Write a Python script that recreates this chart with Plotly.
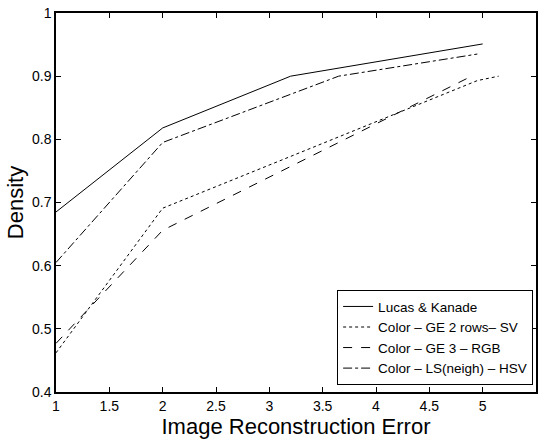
import plotly.graph_objects as go

# Data
lk_x = [1, 2, 3.2, 5.0]
lk_y = [0.685, 0.818, 0.900, 0.951]

ge2_x = [1, 2, 3.2, 4.95, 5.15]
ge2_y = [0.462, 0.691, 0.773, 0.893, 0.900]

ge3_x = [1, 2, 4.92]
ge3_y = [0.477, 0.656, 0.902]

ls_x = [1, 2, 3.65, 4.95]
ls_y = [0.605, 0.795, 0.900, 0.935]

names = ["Lucas & Kanade", "Color – GE 2 rows– SV", "Color – GE 3 – RGB", "Color – LS(neigh) – HSV"]
dashes = ["solid", "dot", "dash", "dashdot"]

fig = go.Figure()
for xs, ys, nm, ds in zip([lk_x, ge2_x, ge3_x, ls_x], [lk_y, ge2_y, ge3_y, ls_y], names, dashes):
    fig.add_trace(go.Scatter(x=xs, y=ys, mode="lines", name=nm,
                             line=dict(color="black", width=1, dash=ds)))

font = "Liberation Sans, Arial, Helvetica, sans-serif"
axis_common = dict(showgrid=False, zeroline=False, showline=True, linecolor="black",
                   linewidth=1.5, mirror="ticks", ticks="inside", ticklen=5, tickwidth=1,
                   tickcolor="black", automargin=False,
                   tickfont=dict(family=font, size=14, color="black"))

fig.update_layout(
    width=545, height=441,
    margin=dict(l=56, r=9, t=13, b=49),
    paper_bgcolor="white", plot_bgcolor="white",
    font=dict(family=font, color="black"),
    xaxis=dict(range=[1, 5.5], dtick=0.5, tick0=1,
               title=dict(text="Image Reconstruction Error", font=dict(size=22), standoff=0),
               **axis_common),
    yaxis=dict(range=[0.4, 1.0], dtick=0.1, tick0=0.4,
               title=dict(text="Density", font=dict(size=22), standoff=2),
               **axis_common),
    legend=dict(x=0.994, y=0.018, xanchor="right", yanchor="bottom",
                bordercolor="black", borderwidth=1, bgcolor="white",
                font=dict(family=font, size=13.5, color="black"),
                tracegroupgap=0, itemwidth=30),
    showlegend=True,
)

fig.write_html("out.html", config={"displayModeBar": False},
               post_script="document.body.style.margin='0';document.body.style.overflow='hidden';")
